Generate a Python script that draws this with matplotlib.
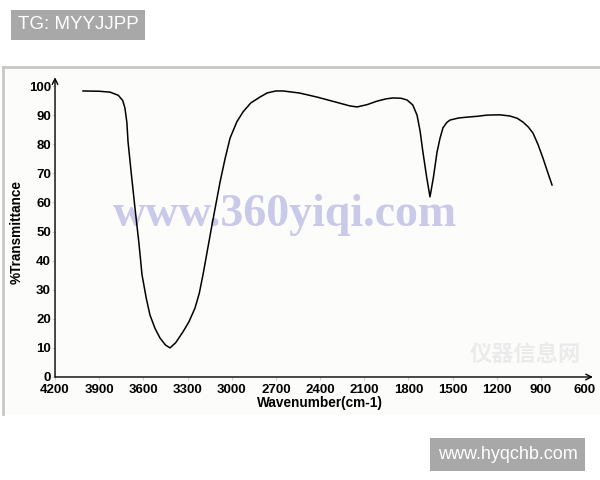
import matplotlib
matplotlib.use("Agg")
import matplotlib.pyplot as plt
from matplotlib.lines import Line2D
from matplotlib.patches import Rectangle

# IR spectrum
wavenumber = [4010, 3900, 3826, 3770, 3740, 3725, 3712, 3704, 3680, 3657,
              3630, 3609, 3580, 3555, 3520, 3487, 3450, 3419, 3380, 3331,
              3290, 3249, 3220, 3195, 3165, 3134, 3105, 3079, 3045, 3011,
              2965, 2923, 2870, 2808, 2760, 2700, 2651, 2540, 2420, 2280,
              2200, 2149, 2080, 2013, 1950, 1904, 1850, 1809, 1770, 1741,
              1720, 1701, 1675, 1653, 1630, 1605, 1585, 1565, 1540, 1517,
              1460, 1402, 1330, 1266, 1180, 1110, 1060, 1021, 985, 953,
              920, 886, 855, 824]
transmittance = [98.3, 98.2, 97.9, 96.8, 95.0, 92.4, 87.5, 80.8, 69.0, 58.1,
                 46.0, 35.1, 27.0, 21.3, 16.6, 13.4, 11.0, 10.0, 11.8, 15.5,
                 19.0, 23.7, 28.8, 35.1, 43.5, 52.2, 60.0, 67.0, 75.0, 82.1,
                 87.7, 91.1, 94.2, 96.2, 97.6, 98.3, 98.3, 97.6, 96.2, 94.3,
                 93.2, 92.8, 93.6, 94.8, 95.6, 95.9, 95.8, 95.2, 93.5, 90.0,
                 84.5, 77.3, 68.5, 61.9, 68.5, 77.3, 82.0, 85.6, 87.4, 88.3,
                 89.0, 89.3, 89.6, 90.0, 90.1, 89.7, 88.9, 87.6, 85.9, 83.8,
                 80.0, 75.3, 70.6, 66.0]

x_ticks = [4200, 3900, 3600, 3300, 3000, 2700, 2400, 2100, 1800, 1500, 1200, 900, 600]
y_ticks = [0, 10, 20, 30, 40, 50, 60, 70, 80, 90, 100]

plt.rcParams['font.family'] = ['Liberation Sans', 'DejaVu Sans']

fig = plt.figure(figsize=(6, 4.8), dpi=100)
fig.patch.set_facecolor("white")

# panel frame: faint fill, grey top and left edges
fig.add_artist(Rectangle((0.005, 0.135), 1.0, 0.725, transform=fig.transFigure,
                         facecolor="#fcfcfa", edgecolor="none", zorder=-2))
fig.add_artist(Line2D([0.005, 1.0], [0.86, 0.86], transform=fig.transFigure,
                      color="#c8c8c6", linewidth=2, zorder=-1))
fig.add_artist(Line2D([0.005, 0.005], [0.138, 0.86], transform=fig.transFigure,
                      color="#c8c8c6", linewidth=2, zorder=-1))

# watermarks
fig.text(0.475, 0.552, "www.360yiqi.com", fontsize=33, fontweight="bold",
         family="Liberation Serif", color="#c9c9e9", ha="center", va="center",
         zorder=-1)
fig.text(0.875, 0.262, "仪器信息网", fontsize=16, fontweight="bold",
         family=["Noto Sans CJK SC", "DejaVu Sans"], color="#ebebeb",
         ha="center", va="center", zorder=-1)

ax = fig.add_axes([0.0917, 0.2146, 0.8833, 0.6062])
ax.set_facecolor("none")
ax.plot(wavenumber, transmittance, color="black", linewidth=1.1)

ax.set_xlim(4200, 600)
ax.set_ylim(0, 100)
ax.set_xticks(x_ticks)
ax.set_yticks(y_ticks)
ax.tick_params(length=2, color="#d0d0d0", labelsize=9.5)
ax.tick_params(axis="x", pad=3)
ax.tick_params(axis="y", pad=1)
for lab in ax.get_xticklabels() + ax.get_yticklabels():
    lab.set_fontweight("bold")

for side in ["top", "right", "left", "bottom"]:
    ax.spines[side].set_visible(False)
ax.annotate("", xy=(0, 1.03), xytext=(0, 0), xycoords="axes fraction",
            arrowprops=dict(arrowstyle="->", color="black", lw=1,
                            shrinkA=0, shrinkB=0), annotation_clip=False)
ax.annotate("", xy=(1.015, 0), xytext=(0, 0), xycoords="axes fraction",
            arrowprops=dict(arrowstyle="->", color="black", lw=1,
                            shrinkA=0, shrinkB=0), annotation_clip=False)

ax.set_xlabel("Wavenumber(cm-1)", fontsize=9.8, fontweight="bold", labelpad=0)
ax.set_ylabel("%Transmittance", fontsize=9.8, fontweight="bold", labelpad=4)

# corner tags
fig.text(0.03, 0.948, "TG: MYYJJPP", fontsize=13.5, color="white",
         ha="left", va="center",
         bbox=dict(boxstyle="square,pad=0.35", facecolor="#a8a8a8",
                   edgecolor="none"))
fig.text(0.8465, 0.053, "www.hyqchb.com", fontsize=13, color="white",
         ha="center", va="center",
         bbox=dict(boxstyle="square,pad=0.42", facecolor="#a8a8a8",
                   edgecolor="none"))

fig.savefig("out.png", dpi=100)
